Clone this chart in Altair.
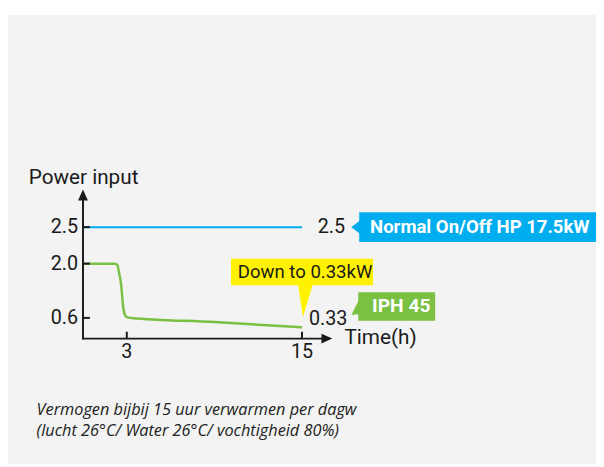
import altair as alt
import pandas as pd

# ---------------- data ----------------
time_ticks = [3, 15]
power_ticks = [0.6, 2.0, 2.5]
power_tick_labels = ["0.6", "2.0", "2.5"]

normal_t = [0, 15]
normal_v = [2.5, 2.5]

iph_t = [0, 2.2, 2.35, 2.45, 2.6, 2.75, 2.85, 3.0, 3.3, 9.0, 15]
iph_v = [2.0, 2.0, 1.97, 1.8, 1.5, 0.9, 0.7, 0.62, 0.6, 0.48, 0.33]

y_axis_end = 2.88     # top of the vertical axis (arrow base)
x_axis_end = 16.4     # end of the horizontal axis (arrow base)

y_title = "Power input"
x_title = "Time(h)"
normal_label = "Normal On/Off HP 17.5kW"
iph_label = "IPH 45"
note_label = "Down to 0.33kW"
caption = ["Vermogen bijbij 15 uur verwarmen per dagw",
           "(lucht 26°C/ Water 26°C/ vochtigheid 80%)"]

# ---------------- styling ----------------
BLUE = "#00aeef"
GREEN = "#7ac143"
YELLOW = "#fff200"
INK = "#1a1a1a"
BG = "#f2f3f2"
FONT = "Roboto"

W, H = 596, 459
xs = alt.Scale(domain=[0, 15], range=[76, 298], zero=False, nice=False)
ys = alt.Scale(domain=[0, 0.6, 2.0, 2.5, 3.0], range=[332, 311, 256, 219, 182],
               zero=False, nice=False)


def X(f):
    return alt.X(f, type="quantitative", scale=xs, axis=None)


def Y(f):
    return alt.Y(f, type="quantitative", scale=ys, axis=None)


one = pd.DataFrame({"d": [0]})

# background panel
bg = alt.Chart(one).mark_rect(color=BG).encode(
    x=alt.value(-1), x2=alt.value(W), y=alt.value(4), y2=alt.value(H))

normal_df = pd.DataFrame({"t": normal_t, "v": normal_v})
iph_df = pd.DataFrame({"t": iph_t, "v": iph_v})

normal_line = alt.Chart(normal_df).mark_line(color=BLUE, strokeWidth=2).encode(
    x=X("t"), y=Y("v"))
iph_line = alt.Chart(iph_df).mark_line(color=GREEN, strokeWidth=2.5,
                                       interpolate="monotone").encode(
    x=X("t"), y=Y("v"))

axes_df = pd.DataFrame({"t0": [0, -0.07], "v0": [-0.02, 0],
                        "t1": [0, x_axis_end], "v1": [y_axis_end, 0]})
axes = alt.Chart(axes_df).mark_rule(color=INK, strokeWidth=2).encode(
    x=X("t0"), y=Y("v0"), x2="t1", y2="v1")

y_arrow = alt.Chart(pd.DataFrame({"t": [0], "v": [y_axis_end]})).mark_point(
    shape="M-5,1 L5,1 L0,-10 Z", size=4, filled=True, color=INK, opacity=1).encode(
    x=X("t"), y=Y("v"))
x_arrow = alt.Chart(pd.DataFrame({"t": [x_axis_end], "v": [0]})).mark_point(
    shape="M-1,-5 L-1,5 L10,0 Z", size=4, filled=True, color=INK, opacity=1).encode(
    x=X("t"), y=Y("v"))

ytick_df = pd.DataFrame({"v": power_ticks, "lab": power_tick_labels})
yticks = alt.Chart(ytick_df).mark_rule(color=INK, strokeWidth=2).encode(
    y=Y("v"), x=alt.value(76), x2=alt.value(83))
ylabels = alt.Chart(ytick_df).mark_text(
    align="right", baseline="middle", font=FONT, fontSize=20, color=INK).encode(
    y=Y("v"), x=alt.value(71), text="lab:N")

xtick_df = pd.DataFrame({"t": time_ticks, "lab": [str(t) for t in time_ticks]})
xticks = alt.Chart(xtick_df).mark_rule(color=INK, strokeWidth=2).encode(
    x=X("t"), y=alt.value(325), y2=alt.value(332))
xlabels = alt.Chart(xtick_df).mark_text(
    align="center", baseline="middle", font=FONT, fontSize=20, color=INK).encode(
    x=X("t"), y=alt.value(346), text="lab:N")


def txt(s, x, y, size=20, color=INK, weight="normal", align="left", style="normal",
        font=FONT):
    return alt.Chart(one).mark_text(
        text=s, align=align, baseline="middle", font=font, fontSize=size,
        color=color, fontWeight=weight, fontStyle=style).encode(
        x=alt.value(x), y=alt.value(y))


def box(x0, x1, y0, y1, color):
    return alt.Chart(one).mark_rect(color=color).encode(
        x=alt.value(x0), x2=alt.value(x1), y=alt.value(y0), y2=alt.value(y1))


def pointer(x, y, path, color):
    return alt.Chart(one).mark_point(
        shape=path, size=4, filled=True, color=color, opacity=1).encode(
        x=alt.value(x), y=alt.value(y))


titles = [
    txt(y_title, 21, 169, size=21),
    txt(x_title, 341, 331, size=21),
    txt(f"{normal_v[-1]}", 314, 219),
    txt(f"{iph_v[-1]}", 305, 312),
]

callouts = [
    box(356, W, 204, 234, BLUE),
    pointer(348, 219, "M0,0 L9,-7 L9,7 Z", BLUE),
    txt(normal_label, 367, 219, size=18.8, color="white", weight="bold"),
    box(226, 370, 251, 278, YELLOW),
    pointer(294, 277, "M0,0 L15,0 L5,33 Z", YELLOW),
    txt(note_label, 233, 265, size=18.8),
    box(355, 433, 285, 314, GREEN),
    pointer(356, 292, "M0,0 L-8,16 L0,15 Z", GREEN),
    txt(iph_label, 369, 299, size=19.5, color="white", weight="bold"),
]

caps = [
    txt(caption[0], 29, 404, size=16.5, style="italic", font="Open Sans", color="#222222"),
    txt(caption[1], 29, 426, size=16.5, style="italic", font="Open Sans", color="#222222"),
]

chart = alt.layer(
    bg, normal_line, iph_line, axes, y_arrow, x_arrow, yticks, ylabels,
    xticks, xlabels, *titles, *callouts, *caps
).properties(
    width=W, height=H, padding=0,
    autosize=alt.AutoSizeParams(type="none"),
    background="white",
).configure_view(stroke=None)

chart.save("out.html", embed_options={"renderer": "svg", "actions": False})
